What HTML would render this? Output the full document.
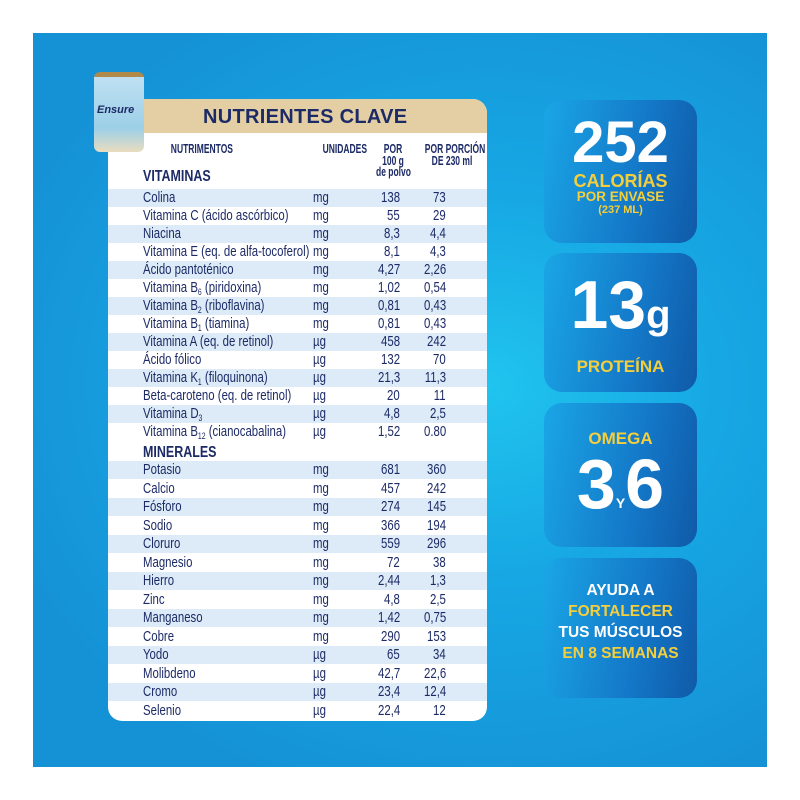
<!DOCTYPE html>
<html><head><meta charset="utf-8"><style>
*{margin:0;padding:0;box-sizing:border-box}
body{width:800px;height:800px;background:#fff;position:relative;overflow:hidden;font-family:"Liberation Sans",sans-serif}
#bg{position:absolute;left:33px;top:33px;width:734px;height:734px;background:radial-gradient(ellipse at 62% 48%,#20c4ee 0%,#17a8e4 35%,#1592d6 80%)}
#card{position:absolute;left:108px;top:99px;width:379px;height:622px;background:#fff;border-radius:14px;overflow:hidden}
#hdr{height:34px;background:#e3cfa3;color:#1c2a66;font-weight:bold;font-size:20px;padding-left:95px;line-height:36px;letter-spacing:.3px}
.t{position:absolute;color:#1c2a66;font-size:12.5px;font-weight:bold;white-space:nowrap;transform:scaleX(.68);transform-origin:center top;text-align:center;line-height:11.5px}
.row{position:absolute;left:0;width:379px;height:18px;color:#1c2a66;font-size:15px;line-height:18px}
.row.s{background:#dcebf7}
.row span{position:absolute;white-space:nowrap;transform:scaleX(.76)}
.n{left:35px;transform-origin:left center}.u{left:205px;transform-origin:left center}.a{right:87px;text-align:right;transform-origin:right center}.b{right:41px;text-align:right;transform-origin:right center}
.row i{font-style:normal;font-size:9px;position:relative;top:3px}
.sec{position:absolute;left:35px;font-weight:bold;font-size:16px;color:#1c2a66;transform:scaleX(.78);transform-origin:left top}
.p{position:absolute;left:544px;width:153px;border-radius:18px;background:linear-gradient(100deg,#1aa6e6 0%,#1478c8 60%,#0f5aa8 100%);text-align:center;font-weight:bold;color:#fff}
.y{color:#f5cf3b}
#can{position:absolute;left:94px;top:72px;width:50px;height:80px;border-radius:6px;background:linear-gradient(180deg,#b08a4a 0 5px,#bfe0f2 5px,#9ccfe8 70%,#e9dcc0 100%)}
</style></head><body>
<div id="bg"></div>
<div id="card">
<div id="hdr">NUTRIENTES CLAVE</div>
<div class="t" style="left:50px;top:45px;width:80px">NUTRIMENTOS</div>
<div class="t" style="left:205px;top:45px;width:60px">UNIDADES</div>
<div class="t" style="left:260px;top:45px;width:50px">POR<br>100 g<br>de polvo</div>
<div class="t" style="left:304px;top:45px;width:80px">POR PORCIÓN<br>DE 230 ml</div>
<div class="sec" style="top:69px">VITAMINAS</div>
<div class="row s" style="top:90px"><span class="n">Colina</span><span class="u">mg</span><span class="a">138</span><span class="b">73</span></div>
<div class="row" style="top:108px"><span class="n">Vitamina C (ácido ascórbico)</span><span class="u">mg</span><span class="a">55</span><span class="b">29</span></div>
<div class="row s" style="top:126px"><span class="n">Niacina</span><span class="u">mg</span><span class="a">8,3</span><span class="b">4,4</span></div>
<div class="row" style="top:144px"><span class="n">Vitamina E (eq. de alfa-tocoferol)</span><span class="u">mg</span><span class="a">8,1</span><span class="b">4,3</span></div>
<div class="row s" style="top:162px"><span class="n">Ácido pantoténico</span><span class="u">mg</span><span class="a">4,27</span><span class="b">2,26</span></div>
<div class="row" style="top:180px"><span class="n">Vitamina B<i>6</i> (piridoxina)</span><span class="u">mg</span><span class="a">1,02</span><span class="b">0,54</span></div>
<div class="row s" style="top:198px"><span class="n">Vitamina B<i>2</i> (riboflavina)</span><span class="u">mg</span><span class="a">0,81</span><span class="b">0,43</span></div>
<div class="row" style="top:216px"><span class="n">Vitamina B<i>1</i> (tiamina)</span><span class="u">mg</span><span class="a">0,81</span><span class="b">0,43</span></div>
<div class="row s" style="top:234px"><span class="n">Vitamina A (eq. de retinol)</span><span class="u">µg</span><span class="a">458</span><span class="b">242</span></div>
<div class="row" style="top:252px"><span class="n">Ácido fólico</span><span class="u">µg</span><span class="a">132</span><span class="b">70</span></div>
<div class="row s" style="top:270px"><span class="n">Vitamina K<i>1</i> (filoquinona)</span><span class="u">µg</span><span class="a">21,3</span><span class="b">11,3</span></div>
<div class="row" style="top:288px"><span class="n">Beta-caroteno (eq. de retinol)</span><span class="u">µg</span><span class="a">20</span><span class="b">11</span></div>
<div class="row s" style="top:306px"><span class="n">Vitamina D<i>3</i></span><span class="u">µg</span><span class="a">4,8</span><span class="b">2,5</span></div>
<div class="row" style="top:324px"><span class="n">Vitamina B<i>12</i> (cianocabalina)</span><span class="u">µg</span><span class="a">1,52</span><span class="b">0.80</span></div>
<div class="sec" style="top:345px">MINERALES</div>
<div class="row s" style="top:362px"><span class="n">Potasio</span><span class="u">mg</span><span class="a">681</span><span class="b">360</span></div>
<div class="row" style="top:380.5px"><span class="n">Calcio</span><span class="u">mg</span><span class="a">457</span><span class="b">242</span></div>
<div class="row s" style="top:399px"><span class="n">Fósforo</span><span class="u">mg</span><span class="a">274</span><span class="b">145</span></div>
<div class="row" style="top:417.5px"><span class="n">Sodio</span><span class="u">mg</span><span class="a">366</span><span class="b">194</span></div>
<div class="row s" style="top:436px"><span class="n">Cloruro</span><span class="u">mg</span><span class="a">559</span><span class="b">296</span></div>
<div class="row" style="top:454.5px"><span class="n">Magnesio</span><span class="u">mg</span><span class="a">72</span><span class="b">38</span></div>
<div class="row s" style="top:473px"><span class="n">Hierro</span><span class="u">mg</span><span class="a">2,44</span><span class="b">1,3</span></div>
<div class="row" style="top:491.5px"><span class="n">Zinc</span><span class="u">mg</span><span class="a">4,8</span><span class="b">2,5</span></div>
<div class="row s" style="top:510px"><span class="n">Manganeso</span><span class="u">mg</span><span class="a">1,42</span><span class="b">0,75</span></div>
<div class="row" style="top:528.5px"><span class="n">Cobre</span><span class="u">mg</span><span class="a">290</span><span class="b">153</span></div>
<div class="row s" style="top:547px"><span class="n">Yodo</span><span class="u">µg</span><span class="a">65</span><span class="b">34</span></div>
<div class="row" style="top:565.5px"><span class="n">Molibdeno</span><span class="u">µg</span><span class="a">42,7</span><span class="b">22,6</span></div>
<div class="row s" style="top:584px"><span class="n">Cromo</span><span class="u">µg</span><span class="a">23,4</span><span class="b">12,4</span></div>
<div class="row" style="top:602.5px"><span class="n">Selenio</span><span class="u">µg</span><span class="a">22,4</span><span class="b">12</span></div>
</div>
<div id="can"><div style="position:absolute;top:32px;left:3px;font:italic bold 11px 'Liberation Sans',sans-serif;color:#1c2a66">Ensure</div></div>
<div class="p" style="top:100px;height:143px"><div style="font-size:58px;line-height:58px;margin-top:14px">252</div><div class="y" style="font-size:18px;line-height:18px">CALORÍAS</div><div class="y" style="font-size:13.5px;line-height:14px">POR ENVASE</div><div class="y" style="font-size:11px;line-height:12px">(237 ML)</div></div>
<div class="p" style="top:253px;height:139px"><div style="font-size:68px;line-height:68px;margin-top:18px">13<span style="font-size:40px">g</span></div><div class="y" style="font-size:17px;margin-top:8px">PROTEÍNA</div></div>
<div class="p" style="top:403px;height:144px"><div class="y" style="font-size:17px;margin-top:26px">OMEGA</div><div style="font-size:70px;line-height:70px">3<span style="font-size:14px">Y</span>6</div></div>
<div class="p" style="top:558px;height:140px;font-size:15.5px;line-height:21px;padding-top:22px"><div>AYUDA A</div><div class="y">FORTALECER</div><div>TUS MÚSCULOS</div><div class="y">EN 8 SEMANAS</div></div>
</body></html>
